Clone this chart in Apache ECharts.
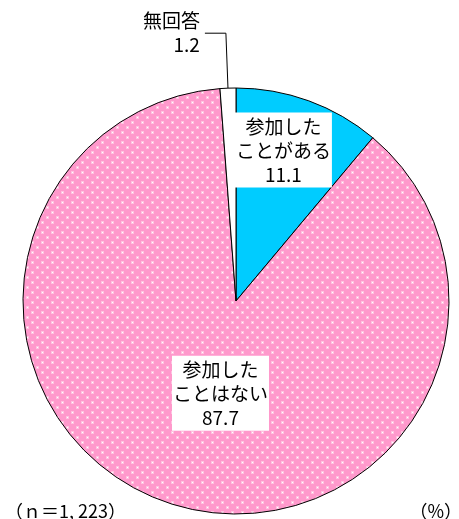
<!DOCTYPE html>
<html>
<head>
<meta charset="utf-8">
<script src="https://cdn.jsdelivr.net/npm/echarts@6/dist/echarts.min.js"></script>
<style>
html,body{margin:0;padding:0;background:#fff;}
#chart{width:459px;height:519px;}
</style>
</head>
<body>
<div id="chart"></div>
<script>
const categories = ['参加した\nことがある', '参加した\nことはない', '無回答'];
const values = [11.1, 87.7, 1.2];
const sampleNote = '（ｎ＝1, 223）';
const unitNote = '（%）';

// dotted pink pattern
const pat = document.createElement('canvas');
pat.width = 10; pat.height = 10;
const pc = pat.getContext('2d');
pc.fillStyle = '#FF99CC';
pc.fillRect(0, 0, 10, 10);
function dot(x, y) {
  pc.fillStyle = 'rgba(255,255,255,0.4)';
  pc.fillRect(x - 1, y - 1, 3, 3);
  pc.fillStyle = '#ffffff';
  pc.fillRect(x, y, 1, 1);
}
dot(2, 2);
dot(7, 7);

const colors = ['#00CCFF', {image: pat, repeat: 'repeat'}, '#FFFFFF'];
const font = '"Noto Sans CJK JP", sans-serif';

const chart = echarts.init(document.getElementById('chart'), null, {renderer: 'canvas'});
chart.setOption({
  animation: false,
  backgroundColor: '#ffffff',
  series: [{
    type: 'pie',
    center: [236, 301],
    radius: 213,
    startAngle: 90,
    clockwise: true,
    avoidLabelOverlap: false,
    itemStyle: {borderColor: '#000', borderWidth: 1},
    data: categories.map((c, i) => ({
      name: c,
      value: values[i],
      itemStyle: {color: colors[i]},
      label: i === 2 ? {
        position: 'outside',
        formatter: '{b}\n{c}'
      } : {
        position: 'inside',
        formatter: '{t|{b}\n{c}}',
        backgroundColor: '#ffffff',
        padding: [2, 1, 1, 1]
      },
      labelLine: i === 2 ? {show: true, length: 55, length2: 21, lineStyle: {color: '#000', width: 1}} : {show: false}
    })),
    label: {
      color: '#000',
      fontFamily: font,
      fontSize: 19,
      lineHeight: 24,
      align: 'center',
      rich: {
        t: {color: '#000', fontFamily: font, fontSize: 19, lineHeight: 24, align: 'center'}
      }
    },
    labelLayout: function (p) {
      if (p.dataIndex === 0) return {dx: 10, dy: -48, fontSize: 19};
      if (p.dataIndex === 1) return {dx: 18, dy: -12, fontSize: 19};
      return {fontSize: 19};
    }
  }],
  graphic: [
    {type: 'text', left: 5, top: 502, style: {text: sampleNote, font: '18px ' + font, fill: '#000'}},
    {type: 'text', right: -3, top: 502, style: {text: unitNote, font: '18px ' + font, fill: '#000'}}
  ]
});
</script>
</body>
</html>
